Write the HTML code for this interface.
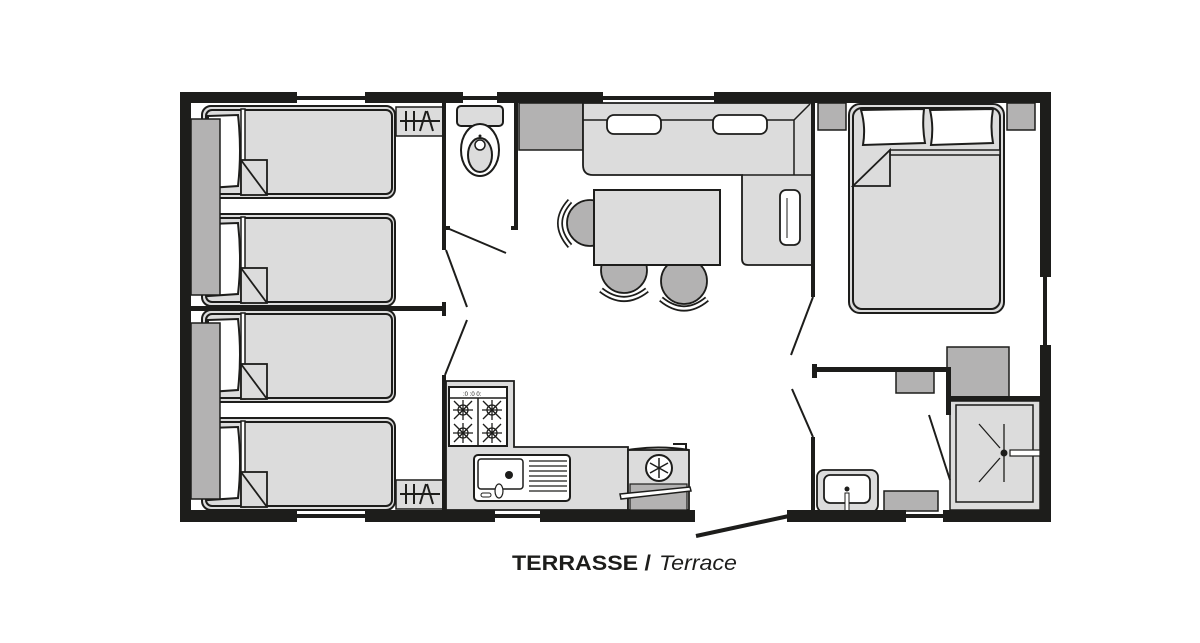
<!DOCTYPE html>
<html><head><meta charset="utf-8"><style>
html,body{margin:0;padding:0;background:#fff;}
svg{display:block;}
text{font-family:"Liberation Sans",sans-serif;}
</style></head><body>
<svg width="1200" height="643" viewBox="0 0 1200 643" xmlns="http://www.w3.org/2000/svg">
<defs>
<g id="bunk">
  <rect x="202" y="0" width="193" height="92" rx="9" fill="#dcdcdc" stroke="#1d1d1b" stroke-width="2"/>
  <rect x="206" y="4" width="186" height="84" rx="6" fill="#dcdcdc" stroke="#1d1d1b" stroke-width="2"/>
  <rect x="241" y="3" width="4" height="86" fill="#fff" stroke="#1d1d1b" stroke-width="1.5"/>
  <path d="M208 10 L238 9 Q242 45 238 80 L208 82 Z" fill="#fff" stroke="#1d1d1b" stroke-width="2"/>
  <rect x="241" y="54" width="26" height="35" fill="#dcdcdc" stroke="#1d1d1b" stroke-width="1.8"/>
  <line x1="241" y1="54" x2="267" y2="89" stroke="#1d1d1b" stroke-width="1.8"/>
</g>
<g id="hanger" stroke="#1d1d1b" stroke-width="2" fill="none">
  <line x1="400" y1="0" x2="440" y2="0"/>
  <line x1="406" y1="-10" x2="406" y2="10"/>
  <line x1="414" y1="-10" x2="414" y2="10"/>
  <line x1="420" y1="10" x2="426" y2="-10"/>
  <line x1="427" y1="-10" x2="433" y2="10"/>
</g>
<g id="burner" stroke="#1d1d1b" stroke-width="1.3" fill="none">
  <circle r="5"/>
  <line x1="-9" y1="-9" x2="9" y2="9"/><line x1="9" y1="-9" x2="-9" y2="9"/>
  <line x1="0" y1="-10" x2="0" y2="10"/><line x1="-10" y1="0" x2="10" y2="0"/>
</g>
</defs>

<g fill="#1d1d1b">
<rect x="297" y="96" width="68" height="4"/>
<rect x="463" y="96" width="34" height="4"/>
<rect x="603" y="96" width="111" height="4"/>
<rect x="297" y="514" width="68" height="4"/>
<rect x="495" y="514" width="45" height="4"/>
<rect x="906" y="514" width="37" height="4"/>
<rect x="1043" y="277" width="4" height="68"/>
</g>
<g fill="#fff"><rect x="297" y="100" width="68" height="3"/><rect x="603" y="100" width="111" height="3"/></g>

<use href="#bunk" y="106"/>
<use href="#bunk" y="214"/>
<use href="#bunk" y="310"/>
<use href="#bunk" y="418"/>
<rect x="191" y="119" width="29" height="176" fill="#b3b2b2" stroke="#1d1d1b" stroke-width="1.5"/>
<rect x="191" y="323" width="29" height="176" fill="#b3b2b2" stroke="#1d1d1b" stroke-width="1.5"/>
<rect x="396" y="107" width="47" height="29" fill="#dcdcdc" stroke="#1d1d1b" stroke-width="1.5"/>
<use href="#hanger" y="121"/>
<rect x="396" y="480" width="47" height="29" fill="#dcdcdc" stroke="#1d1d1b" stroke-width="1.5"/>
<use href="#hanger" y="494"/>

<rect x="457" y="106" width="46" height="20" rx="4" fill="#dcdcdc" stroke="#1d1d1b" stroke-width="2"/>
<ellipse cx="480" cy="150" rx="19" ry="26" fill="#fff" stroke="#1d1d1b" stroke-width="2"/>
<ellipse cx="480" cy="155" rx="12" ry="17" fill="#dcdcdc" stroke="#1d1d1b" stroke-width="2"/>
<circle cx="480" cy="145" r="5" fill="#fff" stroke="#1d1d1b" stroke-width="1.5"/>
<circle cx="480" cy="136" r="1.5" fill="#1d1d1b"/>

<rect x="519" y="103" width="64" height="47" fill="#b3b2b2" stroke="#1d1d1b" stroke-width="1.5"/>
<path d="M583 103 H813 V265 H748 Q742 265 742 259 V175 H593 Q583 175 583 165 Z" fill="#dcdcdc" stroke="#1d1d1b" stroke-width="1.8"/>
<path d="M583 120 H794 L810 104 M794 120 V175 M742 175 H813" fill="none" stroke="#1d1d1b" stroke-width="1.5"/>
<rect x="607" y="115" width="54" height="19" rx="7" fill="#fff" stroke="#1d1d1b" stroke-width="1.8"/>
<rect x="713" y="115" width="54" height="19" rx="7" fill="#fff" stroke="#1d1d1b" stroke-width="1.8"/>
<rect x="780" y="190" width="20" height="55" rx="6" fill="#fff" stroke="#1d1d1b" stroke-width="1.8"/>
<line x1="787" y1="198" x2="787" y2="238" stroke="#1d1d1b" stroke-width="1"/>
<circle cx="590" cy="223" r="23" fill="#b3b2b2" stroke="#1d1d1b" stroke-width="1.8"/>
<circle cx="624" cy="270" r="23" fill="#b3b2b2" stroke="#1d1d1b" stroke-width="1.8"/>
<circle cx="684" cy="281" r="23" fill="#b3b2b2" stroke="#1d1d1b" stroke-width="1.8"/>
<path d="M570 201 Q550 223 570 246" fill="none" stroke="#1d1d1b" stroke-width="6"/>
<path d="M570 201 Q550 223 570 246" fill="none" stroke="#fff" stroke-width="2.5"/>
<path d="M601 290 Q624 308 647 290" fill="none" stroke="#1d1d1b" stroke-width="6"/>
<path d="M601 290 Q624 308 647 290" fill="none" stroke="#fff" stroke-width="2.5"/>
<path d="M661 299 Q684 318 707 299" fill="none" stroke="#1d1d1b" stroke-width="6"/>
<path d="M661 299 Q684 318 707 299" fill="none" stroke="#fff" stroke-width="2.5"/>
<rect x="594" y="190" width="126" height="75" fill="#dcdcdc" stroke="#1d1d1b" stroke-width="2"/>

<path d="M446 381 H514 V447 H628 V510 H446 Z" fill="#dcdcdc" stroke="#1d1d1b" stroke-width="1.8"/>
<rect x="449" y="387" width="58" height="59" fill="#fff" stroke="#1d1d1b" stroke-width="2"/>
<line x1="449" y1="398" x2="507" y2="398" stroke="#1d1d1b" stroke-width="1.5"/>
<line x1="478" y1="398" x2="478" y2="446" stroke="#1d1d1b" stroke-width="1.5"/>
<text x="463" y="396" font-size="6" fill="#1d1d1b">:0 :0  0:</text>
<use href="#burner" x="463" y="410"/><use href="#burner" x="492" y="410"/>
<use href="#burner" x="463" y="433"/><use href="#burner" x="492" y="433"/>
<rect x="474" y="455" width="96" height="46" rx="4" fill="#fff" stroke="#1d1d1b" stroke-width="2"/>
<rect x="478" y="459" width="45" height="30" rx="3" fill="#fff" stroke="#1d1d1b" stroke-width="1.5"/>
<circle cx="509" cy="475" r="4" fill="#1d1d1b"/>
<rect x="481" y="493" width="10" height="4" rx="2" fill="#fff" stroke="#1d1d1b" stroke-width="1"/>
<ellipse cx="499" cy="491" rx="4" ry="7" fill="#fff" stroke="#1d1d1b" stroke-width="1.2"/>
<g stroke="#1d1d1b" stroke-width="1.2"><line x1="529" y1="461" x2="567" y2="461"/><line x1="529" y1="466" x2="567" y2="466"/><line x1="529" y1="471" x2="567" y2="471"/><line x1="529" y1="476" x2="567" y2="476"/><line x1="529" y1="481" x2="567" y2="481"/><line x1="529" y1="486" x2="567" y2="486"/><line x1="529" y1="491" x2="567" y2="491"/></g>
<rect x="628" y="450" width="61" height="60" fill="#dcdcdc" stroke="#1d1d1b" stroke-width="1.8"/>
<rect x="630" y="484" width="57" height="26" fill="#b3b2b2" stroke="#1d1d1b" stroke-width="1.2"/>
<path d="M628 450 Q658 445 689 450 M673 444 H686 V450" fill="none" stroke="#1d1d1b" stroke-width="2"/>
<circle cx="659" cy="468" r="13" fill="#fff" stroke="#1d1d1b" stroke-width="2"/>
<g stroke="#1d1d1b" stroke-width="1.5"><line x1="659" y1="458" x2="659" y2="478"/><line x1="650" y1="463" x2="668" y2="473"/><line x1="650" y1="473" x2="668" y2="463"/></g>
<path d="M620 494 L690 487 L691 491 L621 499 Z" fill="#fff" stroke="#1d1d1b" stroke-width="1.5"/>

<rect x="818" y="103" width="28" height="27" fill="#b3b2b2" stroke="#1d1d1b" stroke-width="1.5"/>
<rect x="1007" y="103" width="28" height="27" fill="#b3b2b2" stroke="#1d1d1b" stroke-width="1.5"/>
<rect x="849" y="104" width="155" height="209" rx="11" fill="#dcdcdc" stroke="#1d1d1b" stroke-width="2"/>
<rect x="853" y="108" width="147" height="201" rx="9" fill="#dcdcdc" stroke="#1d1d1b" stroke-width="2"/>
<path d="M861 110 L924 109 Q922 126 925 143 L863 145 Q866 127 861 110 Z" fill="#fff" stroke="#1d1d1b" stroke-width="2"/>
<path d="M930 110 L993 109 Q990 126 993 143 L931 145 Q934 127 930 110 Z" fill="#fff" stroke="#1d1d1b" stroke-width="2"/>
<rect x="890" y="150" width="110" height="5" fill="#dcdcdc" stroke="#1d1d1b" stroke-width="1.5"/>
<path d="M890 150 V186 H853 Z" fill="#dcdcdc" stroke="#1d1d1b" stroke-width="1.8"/>

<rect x="947" y="347" width="62" height="50" fill="#b3b2b2" stroke="#1d1d1b" stroke-width="1.5"/>
<rect x="896" y="370" width="38" height="23" fill="#b3b2b2" stroke="#1d1d1b" stroke-width="1.5"/>
<rect x="950" y="401" width="90" height="109" fill="#dcdcdc" stroke="#1d1d1b" stroke-width="1.5"/>
<rect x="956" y="405" width="77" height="97" fill="#dcdcdc" stroke="#1d1d1b" stroke-width="1.5"/>
<g stroke="#1d1d1b" stroke-width="1.3"><line x1="1004" y1="424" x2="1004" y2="482"/><line x1="979" y1="424" x2="1000" y2="448"/><line x1="979" y1="482" x2="1000" y2="458"/></g>
<circle cx="1004" cy="453" r="3.5" fill="#1d1d1b"/>
<rect x="1010" y="450" width="30" height="6" fill="#fff" stroke="#1d1d1b" stroke-width="1.2"/>
<rect x="817" y="470" width="61" height="42" rx="7" fill="#dcdcdc" stroke="#1d1d1b" stroke-width="1.8"/>
<rect x="824" y="475" width="46" height="28" rx="6" fill="#fff" stroke="#1d1d1b" stroke-width="1.8"/>
<circle cx="847" cy="489" r="2.5" fill="#1d1d1b"/>
<rect x="845" y="493" width="4" height="18" fill="#fff" stroke="#1d1d1b" stroke-width="1"/>
<rect x="884" y="491" width="54" height="20" fill="#b3b2b2" stroke="#1d1d1b" stroke-width="1.5"/>

<g fill="#1d1d1b">
<rect x="442" y="103" width="4" height="147"/>
<rect x="191" y="306" width="254" height="5"/>
<rect x="442" y="302" width="4" height="14"/>
<rect x="442" y="375" width="4" height="137"/>
<rect x="514" y="103" width="4" height="127"/>
<rect x="511" y="226" width="7" height="4"/>
<rect x="443" y="226" width="7" height="4"/>
<rect x="811" y="103" width="4" height="194"/>
<rect x="811" y="437" width="4" height="75"/>
<rect x="813" y="367" width="137" height="5"/>
<rect x="812" y="364" width="5" height="14"/>
<rect x="946" y="367" width="5" height="48"/>
<rect x="946" y="396" width="94" height="5"/>
</g>
<g stroke="#1d1d1b" stroke-width="2" fill="none">
<line x1="447" y1="228" x2="506" y2="253"/>
<line x1="446" y1="250" x2="467" y2="307"/>
<line x1="467" y1="320" x2="445" y2="375"/>
<line x1="813" y1="297" x2="791" y2="355"/>
<line x1="792" y1="389" x2="813" y2="437"/>
<line x1="929" y1="415" x2="950" y2="480"/>
</g>
<line x1="696" y1="536" x2="789" y2="516" stroke="#1d1d1b" stroke-width="4"/>

<g fill="#1d1d1b">
<rect x="180" y="92" width="117" height="11"/>
<rect x="365" y="92" width="98" height="11"/>
<rect x="497" y="92" width="106" height="11"/>
<rect x="714" y="92" width="337" height="11"/>
<rect x="180" y="92" width="11" height="430"/>
<rect x="180" y="510" width="117" height="12"/>
<rect x="365" y="510" width="130" height="12"/>
<rect x="540" y="510" width="155" height="12"/>
<rect x="787" y="510" width="119" height="12"/>
<rect x="943" y="510" width="108" height="12"/>
<rect x="1040" y="92" width="11" height="185"/>
<rect x="1040" y="345" width="11" height="177"/>
</g>

<text x="512" y="570" font-size="21" font-weight="bold" fill="#1d1d1b" textLength="139" lengthAdjust="spacingAndGlyphs">TERRASSE /</text>
<text x="659" y="570" font-size="21" font-style="italic" fill="#1d1d1b" textLength="78" lengthAdjust="spacingAndGlyphs">Terrace</text>
</svg>
</body></html>
